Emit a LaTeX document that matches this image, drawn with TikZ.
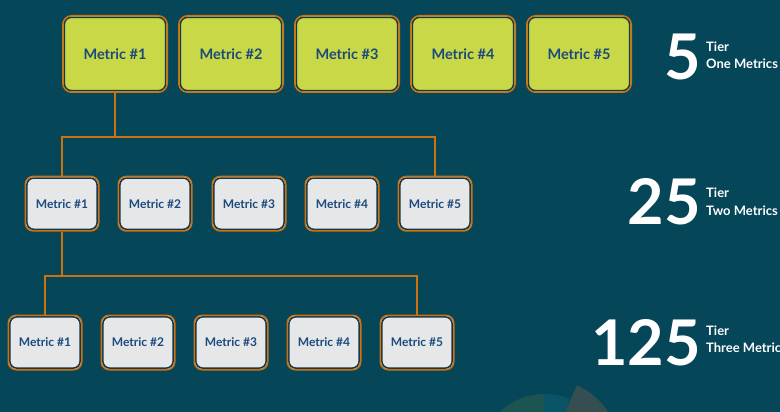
\documentclass[tikz,border=0pt]{standalone}
\usepackage{fontspec}
\setmainfont{Lato}
\definecolor{bg}{RGB}{6,70,89}
\definecolor{lime}{RGB}{200,216,70}
\definecolor{lgray}{RGB}{230,231,233}
\definecolor{orng}{RGB}{204,114,16}
\definecolor{navytxt}{RGB}{28,74,124}
\definecolor{darkline}{RGB}{22,56,74}
\definecolor{pieA}{RGB}{28,84,82}
\definecolor{pieB}{RGB}{10,84,104}
\definecolor{pieC}{RGB}{52,78,82}
\tikzset{
  mbox/.style={draw=orng, line width=1.5pt, rounded corners=9pt, inner sep=0pt,
    font=\bfseries, text=navytxt,
    path picture={\draw[darkline, line width=1.6pt, rounded corners=7pt]
      ([shift={(1.6pt,-1.6pt)}]path picture bounding box.north west) rectangle
      ([shift={(-1.6pt,1.6pt)}]path picture bounding box.south east);}},
  tierone/.style={mbox, fill=lime, minimum width=104.5pt, minimum height=76.5pt, font=\fontsize{14.5}{16}\bfseries},
  tiertwo/.style={mbox, fill=lgray, minimum width=73.5pt, minimum height=54.5pt, rounded corners=8pt, font=\fontsize{12}{14}\bfseries},
  conn/.style={draw=orng, line width=1.4pt},
  bignum/.style={text=white, font=\fontsize{63}{63}\bfseries, inner sep=0pt, anchor=base east},
  tiertxt/.style={text=white, font=\fontsize{13}{15}\bfseries, inner sep=0pt, anchor=base west}
}
\begin{document}
\begin{tikzpicture}[x=1pt,y=-1pt]
\fill[bg] (0,0) rectangle (780,412);
\useasboundingbox (0,0) rectangle (780,412);
% faint pie in background
\fill[pieA] (545,460) -- ++(-135:66) arc[start angle=-135, end angle=-91, radius=66] -- cycle;
\fill[pieB] (545,460) -- ++(-91:66) arc[start angle=-91, end angle=-68, radius=66] -- cycle;
\fill[pieC] (548,450) -- ++(-66:71) arc[start angle=-66, end angle=0, radius=71] -- cycle;
% tier 1
\foreach \i/\x in {1/115,2/231,3/347,4/463,5/579}
  \node[tierone] (ta\i) at (\x,54) {Metric \#\i};
% tier 2
\foreach \i/\x in {1/62,2/155,3/249,4/342,5/435}
  \node[tiertwo] (tb\i) at (\x,203.7) {Metric \#\i};
% tier 3
\foreach \i/\x in {1/45,2/138,3/231,4/324,5/417}
  \node[tiertwo] (tc\i) at (\x,342.5) {Metric \#\i};
% connectors
\coordinate (busA) at (0,137);
\coordinate (busB) at (0,276);
\draw[conn] (ta1.south) -- (ta1.south |- busA);
\draw[conn] (tb1.north) |- (busA -| tb5.north) -- (tb5.north);
\draw[conn] (tb1.south) -- (tb1.south |- busB);
\draw[conn] (tc1.north) |- (busB -| tc5.north) -- (tc5.north);
% right labels
\node[bignum] (n1) at (701,80) {5};
\node[tiertxt] (a1) at (706,51.7) {Tier};
\node[tiertxt] (b1) at (706,69) {One Metrics};
\node[bignum] (n2) at (701,224) {25};
\node[tiertxt] (a2) at (706,197) {Tier};
\node[tiertxt] (b2) at (706,215) {Two Metrics};
\node[bignum] (n3) at (701,365) {125};
\node[tiertxt] (a3) at (706,335) {Tier};
\node[tiertxt] (b3) at (706,352.7) {Three Metrics};
\end{tikzpicture}
\end{document}
